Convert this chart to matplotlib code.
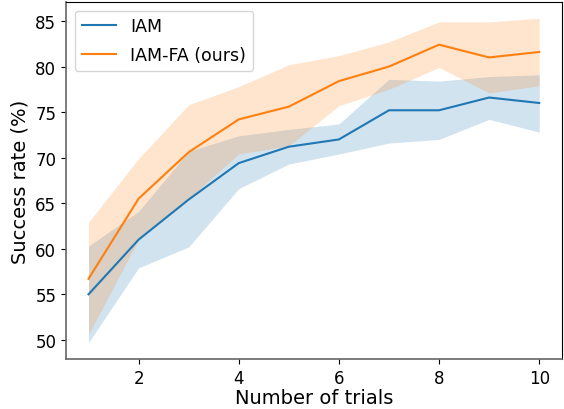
"""Success rate vs. number of trials, IAM vs IAM-FA with spread bands."""
import matplotlib
matplotlib.use("Agg")
import matplotlib.pyplot as plt

trials = [1, 2, 3, 4, 5, 6, 7, 8, 9, 10]

iam_mean = [55.0, 61.0, 65.4, 69.4, 71.2, 72.0, 75.2, 75.2, 76.6, 76.0]
iam_low = [49.7, 57.9, 60.2, 66.6, 69.3, 70.4, 71.6, 72.0, 74.2, 72.8]
iam_high = [60.3, 64.1, 70.7, 72.4, 73.1, 73.7, 78.6, 78.4, 78.9, 79.1]

fa_mean = [56.7, 65.5, 70.6, 74.2, 75.6, 78.4, 80.0, 82.4, 81.0, 81.6]
fa_low = [50.6, 61.0, 65.5, 70.4, 71.3, 75.7, 77.5, 79.9, 77.1, 77.9]
fa_high = [62.9, 69.9, 75.8, 77.8, 80.2, 81.2, 82.7, 84.9, 84.9, 85.3]

fig = plt.figure(figsize=(5.64, 4.10), dpi=100)
ax = fig.add_axes([0.117, 0.122, 0.879, 0.871])

ax.plot(trials, iam_mean, color="#1f77b4", lw=1.5, label="IAM")
ax.fill_between(trials, iam_low, iam_high, color="#1f77b4", alpha=0.2, lw=0)
ax.plot(trials, fa_mean, color="#ff7f0e", lw=1.5, label="IAM-FA (ours)")
ax.fill_between(trials, fa_low, fa_high, color="#ff7f0e", alpha=0.2, lw=0)

ax.set_xticks([2, 4, 6, 8, 10])
ax.set_yticks([50, 55, 60, 65, 70, 75, 80, 85])
ax.set_xlim(0.55, 10.45)
ax.set_ylim(47.9, 87.1)
ax.tick_params(labelsize=12)
ax.set_xlabel("Number of trials", fontsize=14, labelpad=1)
ax.set_ylabel("Success rate (%)", fontsize=14)

for side in ("left", "bottom"):
    ax.spines[side].set_color("#666666")
    ax.spines[side].set_linewidth(1.2)

ax.legend(loc="upper left", fontsize=12.5, handlelength=2.0, labelspacing=0.6)

fig.savefig("out.png", dpi=100)
